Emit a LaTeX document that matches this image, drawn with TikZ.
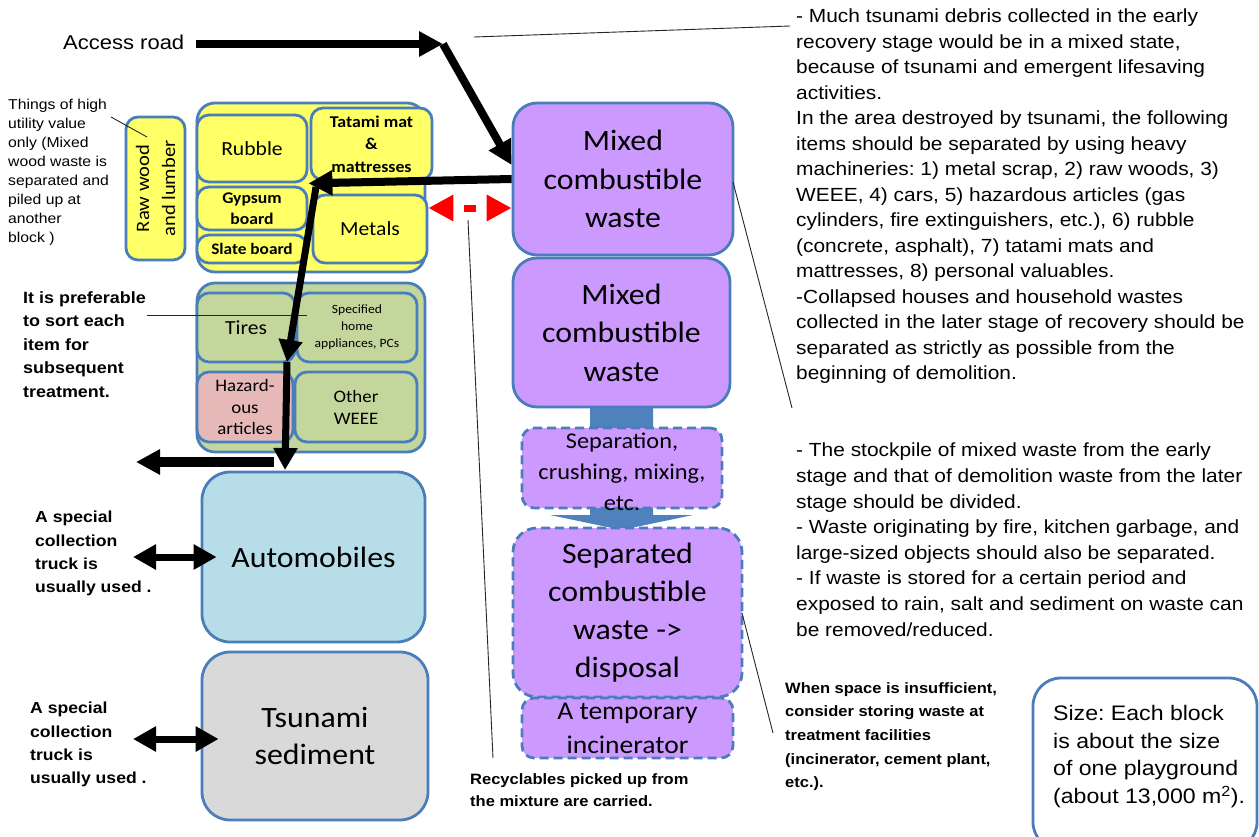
\documentclass[tikz,border=0pt]{standalone}
\usepackage{fontspec}
\setmainfont{Liberation Sans}[FakeStretch=1.1]
\newfontfamily\boxfont{Carlito}[FakeStretch=1.08]
\usetikzlibrary{arrows.meta}
\frenchspacing
\definecolor{bord}{RGB}{74,126,187}
\definecolor{yellowf}{RGB}{255,255,102}
\definecolor{greenf}{RGB}{195,214,155}
\definecolor{pinkf}{RGB}{230,185,184}
\definecolor{purplef}{RGB}{204,153,255}
\definecolor{bluef}{RGB}{183,222,232}
\definecolor{grayf}{RGB}{217,217,217}
\definecolor{flowblue}{RGB}{79,129,189}
\newcommand\fsz[2]{\fontsize{#1}{#2}\selectfont}
\begin{document}
\begin{tikzpicture}[x=1pt,y=-1pt,
  blk/.style={draw=bord, line width=2.8pt, rounded corners=12pt, inner sep=0pt, align=center},
  bigblk/.style={blk, rounded corners=24pt},
  dashblk/.style={blk, dash pattern=on 9pt off 5pt},
  note/.style={inner sep=0pt, anchor=north west, align=left},
  lead/.style={draw=black!85, line width=0.9pt},
  fat/.style={line width=8.5pt, -{Triangle[length=24pt,width=24pt]}},
  twohead/.style={line width=7pt, {Triangle[length=23pt,width=24pt]}-{Triangle[length=23pt,width=24pt]}},
  reddash/.style={red, line width=7pt, dash pattern=on 12pt off 12.5pt, dash phase=12pt,
    {Triangle[length=25pt,width=25pt]}-{Triangle[length=25pt,width=25pt]}}
]
\useasboundingbox (0,0) rectangle (1259,836);
\fill[white] (0,0) rectangle (1259,836);

% ---- sorted items (yellow block)
\node[blk, fill=yellowf, rounded corners=18pt, minimum width=228, minimum height=169] (ygrp) at (311,187.5) {};
\node[blk, fill=yellowf, rotate=90, minimum width=143, minimum height=59,
      font={\boxfont\fsz{19}{26}}] (rawwood) at (155.5,188.5) {Raw wood\\and lumber};
\node[blk, fill=yellowf, minimum width=110, minimum height=67, font={\boxfont\fsz{20}{24}}] (rubble) at (252,148.5) {Rubble};
\node[blk, fill=yellowf, minimum width=121, minimum height=72, font={\boxfont\bfseries\fsz{16.5}{22.5}}] (tatami) at (371.5,144) {Tatami mat\\\&\\mattresses};
\node[blk, fill=yellowf, minimum width=110, minimum height=43, font={\boxfont\bfseries\fsz{16.3}{21}}] (gypsum) at (252,208.5) {Gypsum\\board};
\node[blk, fill=yellowf, minimum width=110, minimum height=28, font={\boxfont\bfseries\fsz{16}{20}}] (slate) at (252,249) {Slate board};
\node[blk, fill=yellowf, minimum width=114, minimum height=68, font={\boxfont\fsz{20}{24}}] (metals) at (370,229) {Metals};

% ---- sorted items (green block)
\node[blk, fill=greenf, rounded corners=18pt, minimum width=228, minimum height=169] (ggrp) at (311,367.5) {};
\node[blk, fill=greenf, minimum width=98, minimum height=69, font={\boxfont\fsz{20}{24}}] (tires) at (246,327.5) {Tires};
\node[blk, fill=greenf, minimum width=120, minimum height=69, font={\boxfont\fsz{12.6}{17}}] (appl) at (357,327.5) {Specified\\home\\appliances, PCs};
\node[blk, fill=pinkf, minimum width=96, minimum height=70, font={\boxfont\fsz{17.5}{21.5}}] (hazard) at (245,407) {Hazard-\\ous\\articles};
\node[blk, fill=greenf, minimum width=122, minimum height=70, font={\boxfont\fsz{17.5}{22}}] (weee) at (356,407) {Other\\WEEE};

% ---- automobiles and sediment
\node[blk, fill=bluef, rounded corners=28pt, minimum width=223, minimum height=170, font={\boxfont\fsz{29.5}{37}}] (auto) at (313.5,557) {Automobiles};
\node[blk, fill=grayf, rounded corners=28pt, minimum width=226, minimum height=168, font={\boxfont\fsz{29.5}{37}}] (sediment) at (315,736) {Tsunami\\sediment};

% ---- combustible waste column
\fill[flowblue] (590,405) -- (653,405) -- (653,515) -- (693,515) -- (621.5,530) -- (550,515) -- (590,515) -- cycle;
\node[bigblk, fill=purplef, minimum width=220, minimum height=152, font={\boxfont\fsz{29.5}{38.5}}] (mix1) at (623,179) {Mixed\\combustible\\waste};
\node[bigblk, fill=purplef, minimum width=217, minimum height=149, font={\boxfont\fsz{29.5}{38.5}}] (mix2) at (621.5,332.5) {Mixed\\combustible\\waste};
\node[dashblk, fill=purplef, minimum width=200, minimum height=80] (sep) at (622,468) {};
\node[font={\boxfont\fsz{22.5}{31}}, align=center, inner sep=0pt] (septext) at (622,472) {Separation,\\crushing, mixing,\\etc.};
\node[dashblk, fill=purplef, rounded corners=24pt, minimum width=229, minimum height=169, font={\boxfont\fsz{29.5}{38}}] (separated) at (627.5,612.5) {Separated\\combustible\\waste ->\\disposal};
\node[dashblk, fill=purplef, minimum width=211, minimum height=60, font={\boxfont\fsz{25.5}{34}}] (incin) at (627.5,728) {A temporary\\incinerator};

% ---- notes
\node[note, font=\fsz{20}{24}] (acc) at (63,35) {Access road};
\node[note, font=\fsz{14.3}{19}] (things) at (8,99) {Things of high\\utility value\\only (Mixed\\wood waste is\\separated and\\piled up at\\another\\block )};
\node[note, font={\bfseries\fsz{16.3}{23.5}}] (pref) at (23,291) {It is preferable\\to sort each\\item for\\subsequent\\treatment.};
\node[note, font={\bfseries\fsz{16}{23.2}}] (spec1) at (35,511) {A special\\collection\\truck is\\usually used .};
\node[note, font={\bfseries\fsz{16}{23.2}}] (spec2) at (30,702) {A special\\collection\\truck is\\usually used .};
\node[note, font={\bfseries\fsz{15}{22.3}}] (recyc) at (470,773) {Recyclables picked up from\\the mixture are carried.};
\node[note, font={\bfseries\fsz{15}{23.7}}] (when) at (785,682) {When space is insufficient,\\consider storing waste at\\treatment facilities\\(incinerator, cement plant,\\etc.).};
\node[note, font=\fsz{19}{25.5}] (right1) at (796,9) {- Much tsunami debris collected in the early\\recovery stage would be in a mixed state,\\because of tsunami and emergent lifesaving\\activities.\\In the area destroyed by tsunami, the following\\items should be separated by using heavy\\machineries: 1) metal scrap, 2) raw woods, 3)\\WEEE, 4) cars, 5) hazardous articles (gas\\cylinders, fire extinguishers, etc.), 6) rubble\\(concrete, asphalt), 7) tatami mats and\\mattresses, 8) personal valuables.\\-Collapsed houses and household wastes\\collected in the later stage of recovery should be\\separated as strictly as possible from the\\beginning of demolition.};
\node[note, font=\fsz{19}{25.6}] (right2) at (796,443) {- The stockpile of mixed waste from the early\\stage and that of demolition waste from the later\\stage should be divided.\\- Waste originating by fire, kitchen garbage, and\\large-sized objects should also be separated.\\- If waste is stored for a certain period and\\exposed to rain, salt and sediment on waste can\\be removed/reduced.};

% ---- block size box
\begin{scope}
\clip (0,0) rectangle (1259,836);
\node[draw=bord, line width=2.8pt, rounded corners=28pt, minimum width=224, minimum height=172, inner sep=0pt] (sizebox) at (1145,764) {};
\end{scope}
\node[note, font=\fsz{21}{27.7}] (sizetxt) at (1053,705) {Size: Each block\\is about the size\\of one playground\\(about 13,000 m\textsuperscript{2}).};

% ---- leader lines
\coordinate (l1a) at (474,37);  \coordinate (l1b) at (790,26);
\coordinate (l2a) at (733,182); \coordinate (l2b) at (792,408);
\coordinate (l3a) at (742,613); \coordinate (l3b) at (773,733);
\coordinate (l4a) at (468,220); \coordinate (l4b) at (493,758);
\coordinate (l5a) at (111,117); \coordinate (l5b) at (147,137);
\coordinate (l6a) at (147,315); \coordinate (l6b) at (307,315);
\draw[lead] (l1a) -- (l1b);
\draw[lead] (l2a) -- (l2b);
\draw[lead] (l3a) -- (l3b);
\draw[lead] (l4a) -- (l4b);
\draw[lead] (l5a) -- (l5b);
\draw[lead] (l6a) -- (l6b);

% ---- flow arrows
\coordinate (bend) at (443,44);
\coordinate (turn) at (316,187);
\coordinate (mid) at (287,362);
\coordinate (drop) at (285,470);
\coordinate (outR) at (274,462);
\coordinate (outL) at (136,462);
\coordinate (t1) at (133,557);
\coordinate (t2) at (133,739);
\draw[fat] ([xshift=12pt]acc.east |- bend) -- (bend);
\draw[fat, line width=8pt] (bend) -- ([yshift=14pt]mix1.west);
\draw[fat, line width=8pt] (mix1.west) -- (rubble.south east);
\draw[fat, line width=7pt, -{Triangle[length=22pt,width=23pt]}] (turn) -- (mid);
\draw[fat, line width=7pt, -{Triangle[length=22pt,width=23pt]}] (mid) -- (drop);
\draw[fat, line width=9.5pt] (outR) -- (outL);
\draw[twohead] (t1) -- ([xshift=16pt]auto.west);
\draw[twohead] (t2) -- ([xshift=18pt,yshift=-3pt]sediment.west);
\draw[reddash] ([yshift=21pt]metals.east) -- ([yshift=-29pt]mix1.west);
\end{tikzpicture}
\end{document}
